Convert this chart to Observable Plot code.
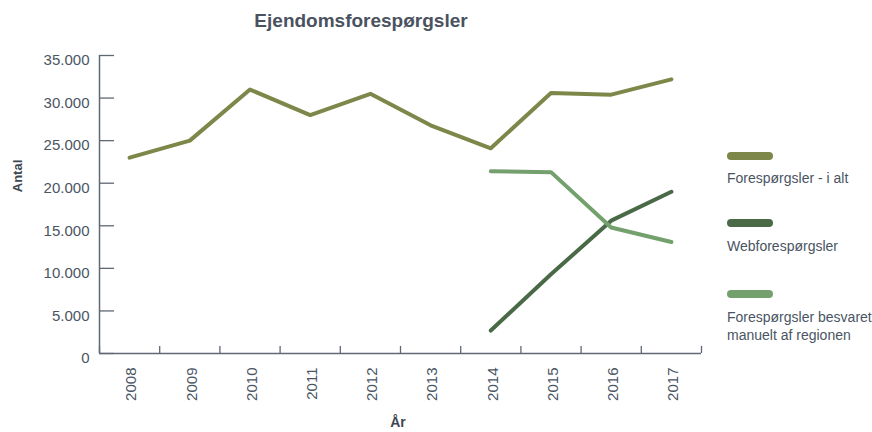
<!DOCTYPE html>
<html>
<head>
<meta charset="utf-8">
<script src="https://cdn.jsdelivr.net/npm/d3@7"></script>
<script src="https://cdn.jsdelivr.net/npm/@observablehq/plot@0.6"></script>
<style>
  html, body { margin: 0; padding: 0; background: #fff; }
  #wrap { position: relative; width: 872px; height: 432px; font-family: "Liberation Sans", Arial, sans-serif; color: #4a5563; }
  #chart { position: absolute; left: 0; top: 0; }
  .title { position: absolute; left: 0; width: 722px; top: 10px; text-align: center; font-weight: bold; font-size: 19px; color: #4a5260; }
  .ylab { position: absolute; left: 17px; top: 176px; transform: translate(-50%, -50%) rotate(-90deg); font-weight: bold; font-size: 13px; color: #3e4652; white-space: nowrap; }
  .xlab { position: absolute; left: 398px; top: 414px; transform: translateX(-50%); font-weight: bold; font-size: 14px; color: #3e4652; }
  .leg { position: absolute; left: 727px; font-size: 14px; color: #4a5563; line-height: 18px; }
  .sw { position: absolute; left: 727px; width: 46px; height: 8px; border-radius: 4px; }
</style>
</head>
<body>
<div id="wrap">
  <div id="chart"></div>
  <div class="title">Ejendomsforespørgsler</div>
  <div class="ylab">Antal</div>
  <div class="xlab">År</div>
  <div id="legend"></div>
</div>
<script>
const years = [2008, 2009, 2010, 2011, 2012, 2013, 2014, 2015, 2016, 2017];
const total = [23000, 25000, 31000, 28000, 30500, 26800, 24100, 30600, 30400, 32200];
const webYears = [2014, 2015, 2016, 2017];
const web = [2700, 9300, 15600, 19000];
const manual = [21400, 21300, 14800, 13100];
const seriesNames = ["Forespørgsler - i alt", "Webforespørgsler", "Forespørgsler besvaret manuelt af regionen"];
const colors = ["#7d8749", "#4a6a47", "#73a06c"];
const yTicks = [0, 5000, 10000, 15000, 20000, 25000, 30000, 35000];
const yTickLabels = ["0", "5.000", "10.000", "15.000", "20.000", "25.000", "30.000", "35.000"];
const bounds = [2007.5, 2008.5, 2009.5, 2010.5, 2011.5, 2012.5, 2013.5, 2014.5, 2015.5, 2016.5, 2017.5];

const rows = [];
years.forEach((y, i) => rows.push({year: y, value: total[i], series: seriesNames[0]}));
webYears.forEach((y, i) => rows.push({year: y, value: web[i], series: seriesNames[1]}));
webYears.forEach((y, i) => rows.push({year: y, value: manual[i], series: seriesNames[2]}));

const axisColor = "#5f6874";
const x0 = bounds[0], x1 = bounds[bounds.length - 1];

const plot = Plot.plot({
  width: 872,
  height: 432,
  marginLeft: 99,
  marginRight: 171,
  marginTop: 55,
  marginBottom: 79,
  style: {fontFamily: "Liberation Sans, Arial, sans-serif", fontSize: "15px", color: "#4a5563", background: "transparent"},
  x: {type: "linear", domain: [x0, x1], axis: null},
  y: {type: "linear", domain: [0, 35000], axis: null},
  color: {domain: seriesNames, range: colors},
  marks: [
    // y axis line and inward ticks
    Plot.ruleX([x0], {y1: 0, y2: 35000, stroke: axisColor, strokeWidth: 1.5}),
    Plot.ruleY(yTicks, {y: d => d, x1: x0, x2: x0 + 0.25, stroke: axisColor, strokeWidth: 1.3}),
    // x axis line and upward boundary ticks
    Plot.ruleY([0], {x1: x0, x2: x1, stroke: axisColor, strokeWidth: 1.5}),
    Plot.ruleX(bounds, {x: d => d, y1: 0, y2: 830, stroke: axisColor, strokeWidth: 1.3}),
    // y tick labels
    Plot.text(yTicks, {x: x0, y: d => d, text: (d, i) => yTickLabels[i], textAnchor: "end", dx: -10, dy: 5, fill: "#4a5563", fontSize: 15}),
    // x tick labels (rotated)
    Plot.text(years, {x: d => d, y: 0, text: d => String(d), rotate: -90, textAnchor: "end", dx: 2, dy: 14, lineAnchor: "middle", fill: "#4a5563", fontSize: 15}),
    Plot.line(rows, {x: "year", y: "value", z: "series", stroke: "series", strokeWidth: 4, strokeLinejoin: "round", strokeLinecap: "round"})
  ]
});
document.getElementById("chart").appendChild(plot);

// legend
const legend = document.getElementById("legend");
const swTops = [152, 219, 290];
const txtTops = [169, 237, 308];
const legendLabels = ["Forespørgsler - i alt", "Webforespørgsler", "Forespørgsler besvaret<br>manuelt af regionen"];
seriesNames.forEach((s, i) => {
  const sw = document.createElement("div");
  sw.className = "sw";
  sw.style.top = swTops[i] + "px";
  sw.style.background = colors[i];
  legend.appendChild(sw);
  const t = document.createElement("div");
  t.className = "leg";
  t.style.top = txtTops[i] + "px";
  t.innerHTML = legendLabels[i];
  legend.appendChild(t);
});
</script>
</body>
</html>
